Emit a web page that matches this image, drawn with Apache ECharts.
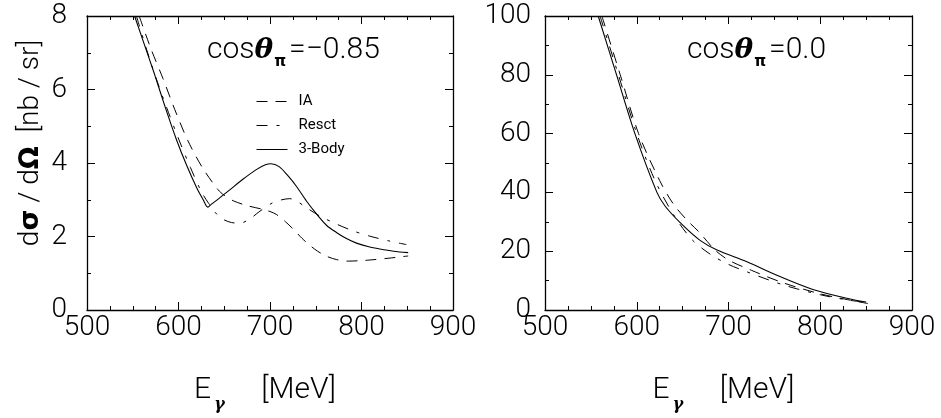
<!DOCTYPE html>
<html>
<head>
<meta charset="utf-8">
<script src="https://cdn.jsdelivr.net/npm/echarts@6/dist/echarts.min.js"></script>
<style>
html,body{margin:0;padding:0;background:#fff;}
#chart{width:941px;height:418px;}
</style>
</head>
<body>
<div id="chart"></div>
<script>
// ---------- data (E_gamma [MeV], dσ/dΩ [nb/sr]) ----------
const seriesNames = ['IA', 'Resct', '3-Body'];
const panelTitles = ['=\u22120.85', '=0.0'];
const xTicks = [500, 600, 700, 800, 900];
const yTicksLeft = [0, 2, 4, 6, 8];
const yTicksRight = [0, 20, 40, 60, 80, 100];

// left panel: cos θπ = -0.85
const leftIA = [[557,8],[570,7.1],[583,6.3],[596,5.45],[610,4.62],[626,3.88],[643,3.28],[650,3.12],[660,2.97],[675,2.84],[692,2.74],[700,2.68],[707,2.6],[717,2.4],[727,2.16],[735,1.95],[743.5,1.76],[752,1.6],[762,1.46],[773,1.37],[785.6,1.33],[797,1.34],[809,1.36],[830,1.41],[851,1.47]];
const leftResct = [[554,8],[565,7.1],[577,6.2],[589,5.38],[601,4.6],[613,3.88],[625,3.22],[633,2.9],[642,2.6],[650,2.45],[658,2.38],[667,2.36],[678,2.48],[689,2.69],[703,2.92],[713,3.0],[721.6,3.03],[730,2.95],[740,2.78],[755,2.55],[772.6,2.34],[790,2.16],[809,2.01],[830,1.88],[849,1.78]];
const leftBody = [[552,8],[563,7.2],[574,6.4],[586,5.48],[598,4.62],[609,3.93],[620,3.32],[627,3.0],[632,2.8],[636,2.88],[645,3.05],[656,3.27],[670,3.55],[685,3.82],[695,3.95],[701,3.98],[710,3.9],[720,3.64],[729,3.36],[740,2.96],[752.6,2.56],[762,2.3],[772.6,2.11],[783,1.95],[794.5,1.82],[808,1.72],[820,1.66],[835,1.6],[851,1.56]];

// right panel: cos θπ = 0.0
const rightIA = [[562,100],[582,80],[602,60],[625,44],[640,36],[655,30.5],[668,26.5],[685,20.5],[700,17],[725,13.5],[760,9.2],[800,5.5],[830,3.5],[852,2.2]];
const rightResct = [[560,100],[580,80],[600,60],[620,44],[640,32.5],[660,24],[680,19],[700,15.5],[720,13],[760,8.5],[800,5.2],[830,3.4],[850,2.6]];
const rightBody = [[558,100],[578,80],[598,60],[622,40],[631,35.3],[649,29.2],[669,23.7],[687,20.5],[720,16.4],[756,11.4],[792,7],[829,4],[850,2.7]];

// ---------- styles ----------
const FONT = 'Roboto';
const dashIA = [11, 8];
const dashResct = [11, 9, 3, 9];
const lineStyles = [
  {color:'#000', width:1, type: dashIA},
  {color:'#000', width:1, type: dashResct},
  {color:'#000', width:1.1, type:'solid'}
];

const chart = echarts.init(document.getElementById('chart'), null, {renderer:'canvas'});

function xAx(grid, pos, showLabel, name){
  return {
    type:'value', gridIndex:grid, position:pos, min:xTicks[0], max:xTicks[xTicks.length-1], interval:100,
    axisLine:{show:true, onZero:false, lineStyle:{color:'#000', width:1.3}},
    axisTick:{show:true, inside:true, length:8, lineStyle:{color:'#000', width:1}},
    minorTick:{show:true, splitNumber:4, length:4, lineStyle:{color:'#000', width:1}},
    splitLine:{show:false},
    axisLabel:{show:showLabel, margin:4, color:'#000', fontFamily:FONT, fontWeight:300, fontSize:28},
    name: name || '',
    nameLocation:'middle', nameGap:57,
    nameTextStyle: {
      color:'#000', padding:[0,10,0,0],
      rich:{
        a:{fontFamily:FONT, fontWeight:300, fontSize:30, color:'#000'},
        s:{fontFamily:'DejaVu Serif', fontStyle:'italic', fontWeight:'bold', fontSize:16, color:'#000', padding:[30,0,0,3]}
      }
    }
  };
}
function yAx(grid, pos, showLabel, ticks, interval, margin, name){
  return {
    type:'value', gridIndex:grid, position:pos, min:ticks[0], max:ticks[ticks.length-1], interval:interval,
    axisLine:{show:true, onZero:false, lineStyle:{color:'#000', width:1.3}},
    axisTick:{show:true, inside:true, length:8, lineStyle:{color:'#000', width:1}},
    minorTick:{show:true, splitNumber:2, length:4, lineStyle:{color:'#000', width:1}},
    splitLine:{show:false},
    axisLabel:{show:showLabel, margin:margin, color:'#000', fontFamily:FONT, fontWeight:300, fontSize:28},
    name: name || '',
    nameLocation:'middle', nameGap:42, nameRotate:90,
    nameTextStyle:{
      color:'#000', padding:[0,0,0,40],
      rich:{
        a:{fontFamily:FONT, fontWeight:300, fontSize:28, color:'#000'},
        g:{fontFamily:'DejaVu Sans', fontWeight:'bold', fontSize:27, color:'#000'}
      }
    }
  };
}

const xName = '{a|E}{s|γ}{a|     [MeV]}';
const yName = '{a|d}{g|σ}{a| / d}{g|Ω}{a|  [nb / sr]}';

function mk(name, data, xi, yi, idx){
  return {
    name:name, type:'line', data:data, xAxisIndex:xi, yAxisIndex:yi,
    symbol:'none', smooth:0.3, clip:true, silent:true,
    lineStyle: lineStyles[idx], itemStyle:{color:'#000'}
  };
}

const titleRich = {
  a:{fontFamily:FONT, fontWeight:300, fontSize:30, color:'#000'},
  t:{fontFamily:'DejaVu Serif', fontStyle:'italic', fontWeight:'bold', fontSize:28, color:'#000'},
  p:{fontFamily:'DejaVu Sans', fontWeight:'bold', fontSize:15, color:'#000', padding:[24,3,0,1]}
};

chart.setOption({
  animation:false,
  backgroundColor:'#fff',
  grid:[
    {left:87, top:16, width:366, height:300, containLabel:false},
    {left:545, top:16, width:367, height:300, containLabel:false}
  ],
  title:[
    {text:'{a|cos}{t|θ}{p|π}{a|' + panelTitles[0] + '}', left:202, top:26, textStyle:{rich:titleRich}},
    {text:'{a|cos}{t|θ}{p|π}{a|' + panelTitles[1] + '}', left:682, top:26, textStyle:{rich:titleRich}}
  ],
  legend:{
    data: seriesNames.map(function(n, i){
      return {name:n, lineStyle:{type:lineStyles[i].type, width:1, color:'#000'}, itemStyle:{opacity:0, borderWidth:0}};
    }),
    orient:'vertical', left:251, top:89,
    itemWidth:31, itemHeight:14, itemGap:9,
    textStyle:{fontFamily:FONT, fontSize:15, color:'#000', padding:[0,0,0,6]},
    selectedMode:false
  },
  xAxis:[
    xAx(0,'bottom',true, xName), xAx(0,'top',false),
    xAx(1,'bottom',true, xName), xAx(1,'top',false)
  ],
  yAxis:[
    yAx(0,'left',true, yTicksLeft, 2, 20, yName), yAx(0,'right',false, yTicksLeft, 2, 20),
    yAx(1,'left',true, yTicksRight, 20, 14), yAx(1,'right',false, yTicksRight, 20, 14)
  ],
  series:[
    mk(seriesNames[0], leftIA, 0, 0, 0),
    mk(seriesNames[1], leftResct, 0, 0, 1),
    mk(seriesNames[2], leftBody, 0, 0, 2),
    mk(seriesNames[0], rightIA, 2, 2, 0),
    mk(seriesNames[1], rightResct, 2, 2, 1),
    mk(seriesNames[2], rightBody, 2, 2, 2)
  ]
});
</script>
</body>
</html>
